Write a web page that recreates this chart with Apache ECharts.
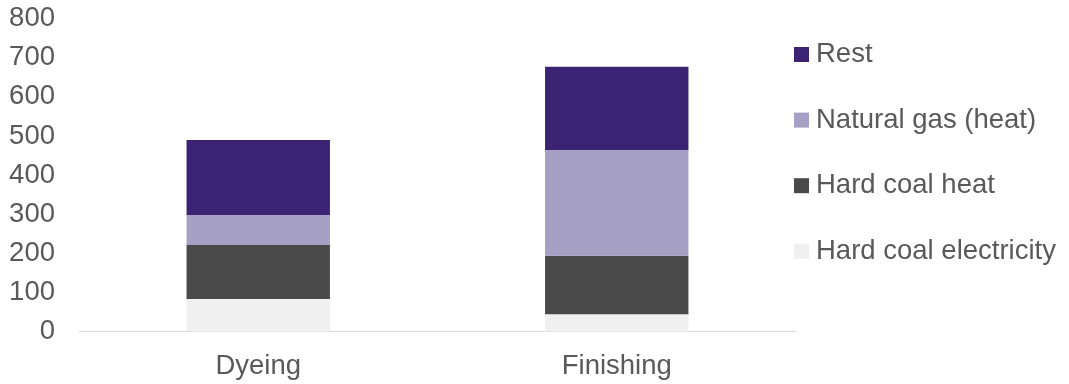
<!DOCTYPE html>
<html>
<head>
<meta charset="utf-8">
<script src="https://cdn.jsdelivr.net/npm/echarts@6/dist/echarts.min.js"></script>
<style>html,body{margin:0;padding:0;background:#fff}#c{width:1069px;height:384px}</style>
</head>
<body>
<div id="c"></div>
<script>
const categories = ['Dyeing', 'Finishing'];
const hardCoalElectricity = [83, 44];
const hardCoalHeat = [138, 150];
const naturalGasHeat = [77, 270];
const rest = [192, 213];
const legendOrder = ['Rest', 'Natural gas (heat)', 'Hard coal heat', 'Hard coal electricity'];

const chart = echarts.init(document.getElementById('c'));
const font = 'Liberation Sans, Arial, sans-serif';
function s(name, data, color) {
  return { name, type: 'bar', stack: 'a', data, barWidth: '40%', itemStyle: { color }, emphasis: { disabled: true } };
}
chart.setOption({
  animation: false,
  grid: { left: 79, right: 273, top: 18.7, bottom: 52.5 },
  legend: {
    orient: 'vertical', left: 789, top: 35.5, itemWidth: 15, itemHeight: 15, itemGap: 37.6,
    icon: 'rect', data: legendOrder,
    textStyle: { fontFamily: font, fontSize: 27.5, color: '#595959', lineHeight: 28, padding: [0, 0, 0, 2] }
  },
  xAxis: {
    type: 'category', data: categories,
    axisLine: { lineStyle: { color: '#d9d9d9', width: 1 } },
    axisTick: { show: false },
    axisLabel: { fontFamily: font, fontSize: 27.5, color: '#595959', margin: 21 }
  },
  yAxis: {
    type: 'value', min: 0, max: 800, interval: 100,
    axisLine: { show: false }, axisTick: { show: false }, splitLine: { show: false },
    axisLabel: { fontFamily: font, fontSize: 27.5, color: '#595959', margin: 24 }
  },
  series: [
    s('Hard coal electricity', hardCoalElectricity, '#f0f0f0'),
    s('Hard coal heat', hardCoalHeat, '#4a4a4a'),
    s('Natural gas (heat)', naturalGasHeat, '#a6a1c4'),
    s('Rest', rest, '#3b2273')
  ]
});
</script>
</body>
</html>
